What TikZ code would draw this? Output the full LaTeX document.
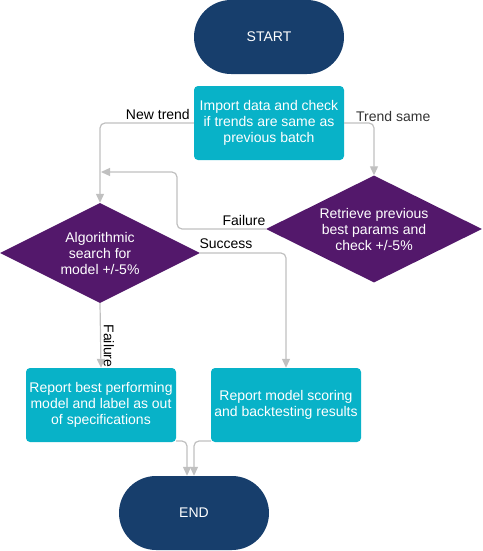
\documentclass[tikz,border=0pt]{standalone}
\usepackage{fontspec}
\setmainfont{Liberation Sans}
\usetikzlibrary{shapes.geometric,shapes.misc,arrows.meta}
\definecolor{navy}{RGB}{23,62,108}
\definecolor{teal2}{RGB}{8,178,200}
\definecolor{purp}{RGB}{83,24,107}
\definecolor{lgray}{RGB}{192,192,192}
\definecolor{tgray}{RGB}{51,51,51}
\begin{document}
\begin{tikzpicture}[x=1pt,y=-1pt,
  every node/.style={font=\fontsize{14}{16}\selectfont},
  term/.style={rounded rectangle, fill=navy, text=white, minimum width=150pt, minimum height=74pt, inner sep=0pt},
  proc/.style={rectangle, rounded corners=4pt, fill=teal2, text=white, minimum width=150pt, minimum height=74pt, inner sep=0pt, align=center},
  dec/.style={diamond, aspect=2, fill=purp, text=white, inner sep=0pt, align=center},
  conn/.style={draw=lgray, line width=1.2pt, rounded corners=5pt, -{Triangle[length=9pt,width=8pt]}},
  lab/.style={text=black, inner sep=0pt}
]
\useasboundingbox (0,0) rectangle (482,551);
\node[term] (start) at (269,37) {START};
\node[proc] (imp) at (269,123) {Import data and check\\if trends are same as\\previous batch};
\node[dec, minimum width=216pt, minimum height=107pt] (ret) at (374,229) {Retrieve previous\\best params and\\check +/-5\%};
\node[dec, minimum width=200pt, minimum height=100pt] (alg) at (100,253) {Algorithmic\\search for\\model +/-5\%};
\node[proc] (rep1) at (101,405) {Report best performing\\model and label as out\\of specifications};
\node[proc] (rep2) at (286,405) {Report model scoring\\and backtesting results};
\node[term] (end) at (194,513) {END};

\coordinate (fx) at (177,172);
\coordinate (fj) at (101,172);
\coordinate (e1) at (176,441);
\coordinate (e2) at (211,441);

\draw[conn] (imp.west) -| (alg.north);
\draw[conn] (imp.east) -| (ret.north);
\draw[conn] (ret.west) -| (fx) -- (fj);
\draw[conn] (alg.east) -| (rep2.north);
\draw[conn] (alg.south) -- (rep1.north);
\draw[conn] (e1) -| ([xshift=-7pt]end.north);
\draw[conn] (e2) -| (end.north);

\node[lab, anchor=south east] (l1) at (190,120) {New trend};
\node[lab, text=tgray, anchor=south west] (l2) at (356,122) {Trend same};
\node[lab] (l3) at (244,220) {Failure};
\node[lab] (l4) at (226,244) {Success};
\node[lab, rotate=-90] (l5) at (109,346) {Failure};
\end{tikzpicture}
\end{document}
